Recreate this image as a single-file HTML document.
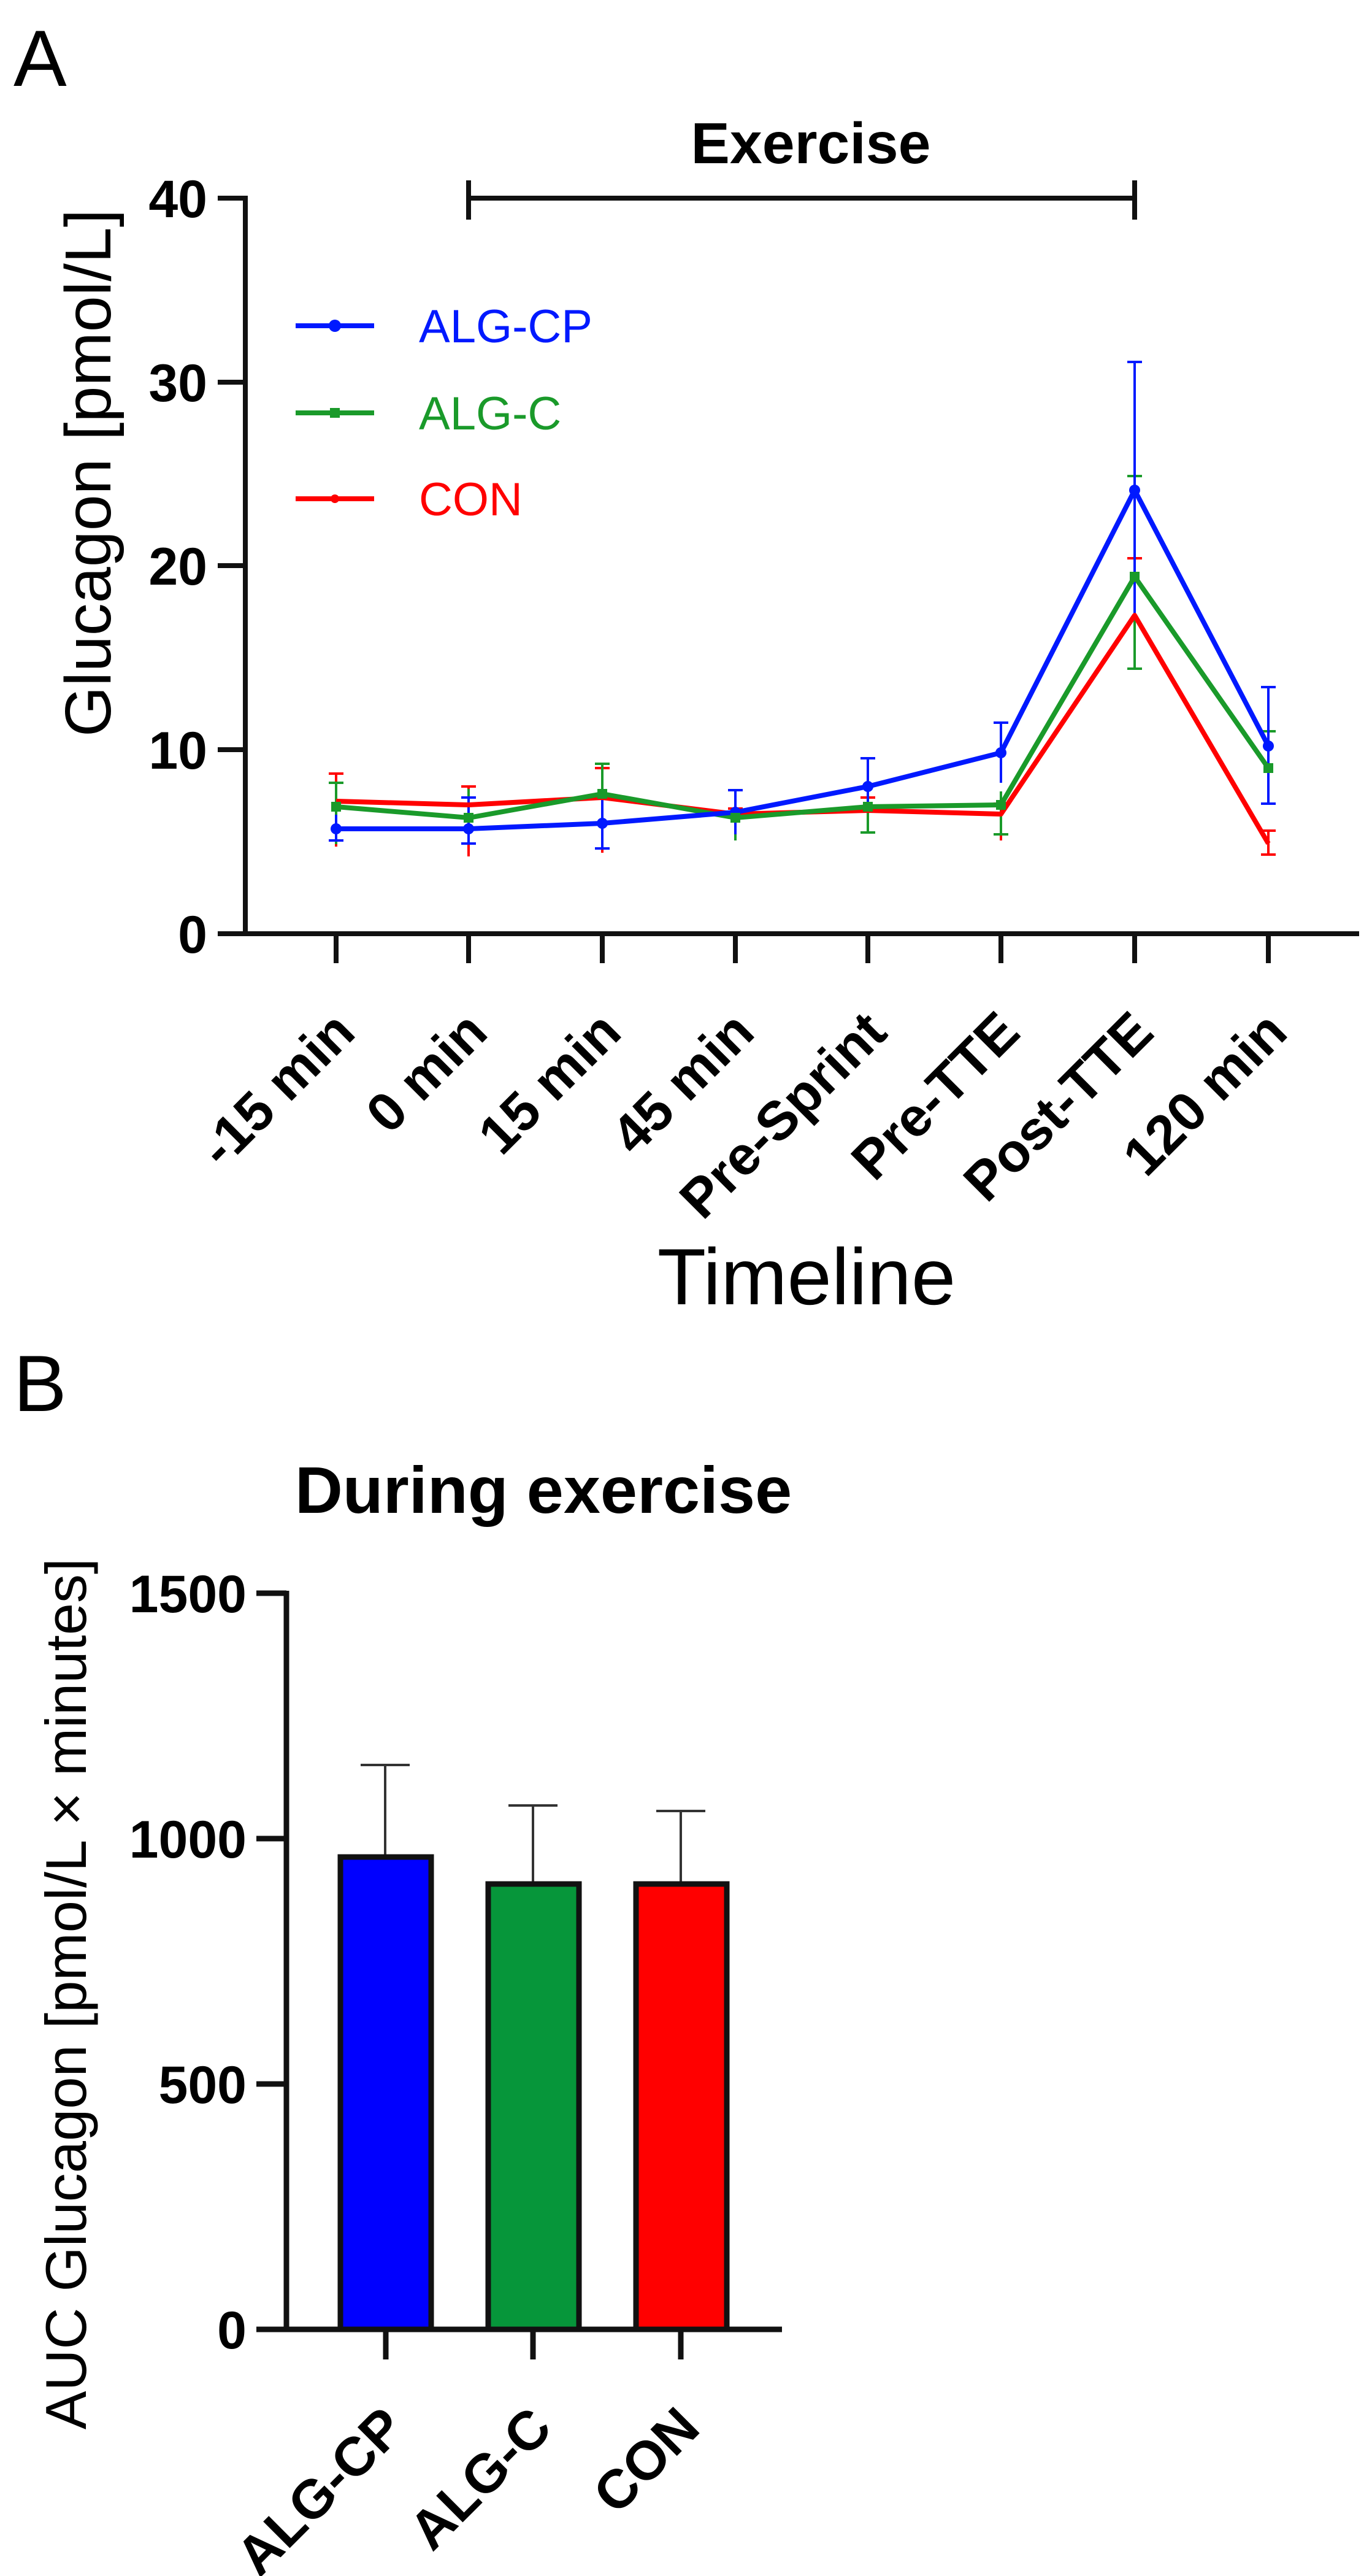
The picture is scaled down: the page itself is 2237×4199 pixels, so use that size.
<!DOCTYPE html>
<html><head><meta charset="utf-8"><style>html,body{margin:0;padding:0;background:#fff}svg{display:block}</style></head>
<body>
<svg width="2237" height="4199" viewBox="0 0 2237 4199" xmlns="http://www.w3.org/2000/svg" font-family="Liberation Sans, Arial, sans-serif">
<rect width="2237" height="4199" fill="#fff"/>
<text x="22" y="140" font-size="130">A</text>
<text x="1322" y="266" font-size="95" font-weight="bold" text-anchor="middle">Exercise</text>
<g stroke="#111" stroke-width="8" fill="none">
<line x1="764" y1="323" x2="1850" y2="323"/><line x1="764" y1="294" x2="764" y2="358"/><line x1="1850" y1="294" x2="1850" y2="358"/>
<line x1="400" y1="319" x2="400" y2="1526"/><line x1="396" y1="1522" x2="2216" y2="1522"/>
<line x1="355" y1="323" x2="400" y2="323"/><line x1="355" y1="623" x2="400" y2="623"/><line x1="355" y1="922" x2="400" y2="922"/><line x1="355" y1="1222" x2="400" y2="1222"/><line x1="355" y1="1522" x2="400" y2="1522"/>
<line x1="548" y1="1522" x2="548" y2="1570"/><line x1="764" y1="1522" x2="764" y2="1570"/><line x1="982" y1="1522" x2="982" y2="1570"/><line x1="1199" y1="1522" x2="1199" y2="1570"/><line x1="1415" y1="1522" x2="1415" y2="1570"/><line x1="1632" y1="1522" x2="1632" y2="1570"/><line x1="1850" y1="1522" x2="1850" y2="1570"/><line x1="2068" y1="1522" x2="2068" y2="1570"/>
</g>
<g font-size="86" font-weight="bold" text-anchor="end">
<text x="338" y="354">40</text><text x="338" y="654">30</text><text x="338" y="953">20</text><text x="338" y="1253">10</text><text x="338" y="1553">0</text>
</g>
<g font-size="89" font-weight="bold" text-anchor="end">
<text transform="translate(583,1687) rotate(-45)">-15 min</text>
<text transform="translate(799,1687) rotate(-45)">0 min</text>
<text transform="translate(1017,1687) rotate(-45)">15 min</text>
<text transform="translate(1234,1687) rotate(-45)">45 min</text>
<text transform="translate(1450,1687) rotate(-45)">Pre-Sprint</text>
<text transform="translate(1667,1687) rotate(-45)">Pre-TTE</text>
<text transform="translate(1885,1687) rotate(-45)">Post-TTE</text>
<text transform="translate(2103,1687) rotate(-45)">120 min</text>
</g>
<text x="1315" y="2126" font-size="130" text-anchor="middle">Timeline</text>
<text transform="translate(180,771) rotate(-90)" font-size="106" text-anchor="middle">Glucagon [pmol/L]</text>
<!-- error bars -->
<g stroke-width="4" fill="none">
<g stroke="#f00">
<path d="M548,1261V1380M536,1261H560M764,1282V1396M752,1282H776M982,1252V1390M970,1252H994M1199,1318V1365M1187,1318H1211M1415,1300V1350M1403,1300H1427M1632,1310V1370M1620,1310H1644M1850,910V1092M1838,910H1862M2068,1354V1393M2056,1354H2080M2056,1393H2080"/>
</g>
<g stroke="#1a9a2a">
<path d="M548,1276V1376M536,1276H560M764,1286V1350M982,1245V1336M970,1245H994M1199,1320V1370M1415,1310V1357M1403,1357H1427M1632,1290V1360M1620,1360H1644M1850,776V1090M1838,776H1862M1838,1090H1862M2068,1192V1312M2056,1192H2080"/>
</g>
<g stroke="#0019ff">
<path d="M548,1328V1370M536,1370H560M764,1300V1375M752,1375H776M752,1300H776M982,1300V1383M970,1383H994M1199,1288V1360M1187,1288H1211M1415,1236V1325M1403,1236H1427M1632,1178V1276M1620,1178H1644M1850,590V1004M1838,590H1862M2068,1120V1310M2056,1120H2080M2056,1310H2080"/>
</g>
</g>
<g fill="none" stroke-width="8" stroke-linejoin="round">
<polyline stroke="#f00" points="548,1306 764,1312 982,1300 1199,1327 1415,1321 1632,1327 1850,1003 2068,1375"/>
<polyline stroke="#1a9a2a" points="548,1315 764,1333 982,1294 1199,1333 1415,1315 1632,1312 1850,940 2068,1252"/>
<polyline stroke="#0019ff" points="548,1351 764,1351 982,1342 1199,1324 1415,1282 1632,1227 1850,799 2068,1216"/>
</g>
<g fill="#0019ff"><circle cx="548" cy="1351" r="9"/><circle cx="764" cy="1351" r="9"/><circle cx="982" cy="1342" r="9"/><circle cx="1199" cy="1324" r="9"/><circle cx="1415" cy="1282" r="9"/><circle cx="1632" cy="1227" r="9"/><circle cx="1850" cy="799" r="9"/><circle cx="2068" cy="1216" r="9"/></g>
<g fill="#1a9a2a"><rect x="540" y="1307" width="16" height="16"/><rect x="756" y="1325" width="16" height="16"/><rect x="974" y="1286" width="16" height="16"/><rect x="1191" y="1325" width="16" height="16"/><rect x="1407" y="1307" width="16" height="16"/><rect x="1624" y="1304" width="16" height="16"/><rect x="1842" y="932" width="16" height="16"/><rect x="2060" y="1244" width="16" height="16"/></g>
<!-- legend -->
<g stroke-width="8"><line x1="482" y1="531" x2="610" y2="531" stroke="#0019ff"/><line x1="482" y1="673" x2="610" y2="673" stroke="#1a9a2a"/><line x1="482" y1="813" x2="610" y2="813" stroke="#f00"/></g>
<circle cx="546" cy="531" r="10" fill="#0019ff"/><rect x="538" y="665" width="16" height="16" fill="#1a9a2a"/><circle cx="546" cy="813" r="7" fill="#f00"/>
<g font-size="76"><text x="683" y="558" fill="#0019ff">ALG-CP</text><text x="683" y="700" fill="#1a9a2a">ALG-C</text><text x="683" y="840" fill="#f00">CON</text></g>

<!-- Panel B -->
<text x="22" y="2300" font-size="130">B</text>
<text x="886" y="2466" font-size="108" font-weight="bold" text-anchor="middle">During exercise</text>
<text transform="translate(140,3250) rotate(-90)" font-size="94" text-anchor="middle">AUC Glucagon [pmol/L × minutes]</text>
<g font-size="86" font-weight="bold" text-anchor="end">
<text x="402" y="2628">1500</text><text x="402" y="3028">1000</text><text x="402" y="3428">500</text><text x="402" y="3828">0</text>
</g>
<g stroke="#333" stroke-width="4" fill="none"><path d="M628,3027V2877M588,2877H668M869,3071V2943M829,2943H909M1110,3071V2952M1070,2952H1150"/></g>
<g stroke="#111" stroke-width="9">
<rect x="555" y="3027" width="148" height="770" fill="#0000ff"/>
<rect x="796" y="3071" width="148" height="726" fill="#06963a"/>
<rect x="1037" y="3071" width="148" height="726" fill="#ff0000"/>
<line x1="467" y1="2593" x2="467" y2="3801"/><line x1="418" y1="3797" x2="1275" y2="3797"/>
<line x1="418" y1="2597" x2="467" y2="2597"/><line x1="418" y1="2997" x2="467" y2="2997"/><line x1="418" y1="3397" x2="467" y2="3397"/>
<line x1="629" y1="3797" x2="629" y2="3846"/><line x1="869" y1="3797" x2="869" y2="3846"/><line x1="1110" y1="3797" x2="1110" y2="3846"/>
</g>
<g font-size="89" font-weight="bold" text-anchor="end">
<text transform="translate(664,3962) rotate(-45)">ALG-CP</text>
<text transform="translate(904,3962) rotate(-45)">ALG-C</text>
<text transform="translate(1145,3962) rotate(-45)">CON</text>
</g>
</svg>
</body></html>
